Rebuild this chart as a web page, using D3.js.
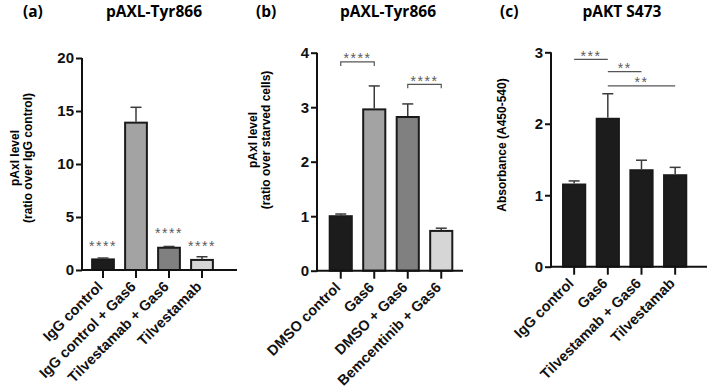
<!DOCTYPE html>
<html>
<head>
<meta charset="utf-8">
<script src="https://cdn.jsdelivr.net/npm/d3@7"></script>
<style>
  body { margin: 0; background: #fff; }
  .tick text { font-family: "Liberation Sans", Arial, sans-serif; }
</style>
</head>
<body>
<svg id="chart" width="709" height="392"></svg>
<script>
// panel (a) data
const catsA = ['IgG control', 'IgG control + Gas6', 'Tilvestamab + Gas6', 'Tilvestamab'];
const valsA = [1.0, 13.9, 2.1, 0.95];
const errsA = [0.13, 1.45, 0.12, 0.3];
const fillsA = ['#1c1c1c', '#a3a3a3', '#808080', '#d6d6d6'];
const ticksA = [0, 5, 10, 15, 20];
// stars above single bars: bar index, height (data units)
const starsA = [{ i: 0, at: 2.5, t: '****' }, { i: 2, at: 3.7, t: '****' }, { i: 3, at: 2.5, t: '****' }];

// panel (b) data
const catsB = ['DMSO control', 'Gas6', 'DMSO + Gas6', 'Bemcentinib + Gas6'];
const valsB = [1.0, 2.96, 2.82, 0.73];
const errsB = [0.04, 0.43, 0.24, 0.05];
const fillsB = ['#1c1c1c', '#a3a3a3', '#808080', '#d6d6d6'];
const ticksB = [0, 1, 2, 3, 4];
const bracketsB = [{ from: 0, to: 1, at: 3.83, t: '****' }, { from: 2, to: 3, at: 3.42, t: '****' }];

// panel (c) data
const catsC = ['IgG control', 'Gas6', 'Tilvestamab + Gas6', 'Tilvestamab'];
const valsC = [1.15, 2.07, 1.35, 1.28];
const errsC = [0.05, 0.35, 0.14, 0.11];
const fillsC = ['#1c1c1c', '#1c1c1c', '#1c1c1c', '#1c1c1c'];
const ticksC = [0, 1, 2, 3];
const linesC = [{ from: 0, to: 1, at: 2.9, t: '***' }, { from: 1, to: 2, at: 2.73, t: '**' }, { from: 1, to: 3, at: 2.53, t: '**' }];

const svg = d3.select('#chart');
const axisFont = '"Liberation Sans", Arial, sans-serif';
const labelFont = '"Open Sans", sans-serif';

const panels = [
  { tag: '(a)', tagX: 23, title: 'pAXL-Tyr866', titleX: 154, cats: catsA, vals: valsA, errs: errsA, fills: fillsA,
    ticks: ticksA, max: 20, axisX: 82, y0: 270, y1: 58, band: [86.5, 218.5], axisEnd: 237,
    ylab: ['pAxl level', '(ratio over IgG control)'], ylabX: 15, ylabY: 158 },
  { tag: '(b)', tagX: 256, title: 'pAXL-Tyr866', titleX: 388, cats: catsB, vals: valsB, errs: errsB, fills: fillsB,
    ticks: ticksB, max: 4, axisX: 317, y0: 270.7, y1: 52.7, band: [324, 458], axisEnd: 463,
    ylab: ['pAxl level', '(ratio over starved cells)'], ylabX: 253, ylabY: 140 },
  { tag: '(c)', tagX: 500, title: 'pAKT S473', titleX: 622, cats: catsC, vals: valsC, errs: errsC, fills: fillsC,
    ticks: ticksC, max: 3, axisX: 551, y0: 266.7, y1: 52.3, band: [557.3, 692], axisEnd: 707,
    ylab: ['Absorbance (A450-540)'], ylabX: 502, ylabY: 145 }
];

const drawStars = (g, x, y, t) => {
  g.append('text')
    .attr('x', x).attr('y', y + 7.5)
    .attr('text-anchor', 'middle')
    .attr('font-family', axisFont)
    .attr('font-size', 14)
    .attr('letter-spacing', 1.5)
    .attr('fill', '#5a5a5a')
    .text(t);
};

panels.forEach(p => {
  const g = svg.append('g');

  const x = d3.scaleBand().domain(p.cats).range(p.band).paddingInner(0.34).paddingOuter(0.17);
  const y = d3.scaleLinear().domain([0, p.max]).range([p.y0, p.y1]);
  const cx = i => x(p.cats[i]) + x.bandwidth() / 2;
  p.cx = cx; p.y = y; p.g = g;

  // titles
  g.append('text').attr('x', p.tagX).attr('y', 17)
    .attr('font-family', labelFont).attr('font-weight', 700).attr('font-size', 15.5)
    .text(p.tag);
  g.append('text').attr('x', p.titleX).attr('y', 17).attr('text-anchor', 'middle')
    .attr('font-family', labelFont).attr('font-weight', 700).attr('font-size', 15.5)
    .text(p.title);

  // y axis label
  const yl = g.append('text')
    .attr('transform', `translate(${p.ylabX},${p.ylabY}) rotate(-90)`)
    .attr('text-anchor', 'middle')
    .attr('font-family', axisFont).attr('font-weight', 700).attr('font-size', 12);
  p.ylab.forEach((s, k) => {
    yl.append('tspan').attr('x', 0).attr('dy', k === 0 ? '0.35em' : 13).text(s);
  });

  // bars
  g.selectAll('rect.bar').data(p.vals).enter().append('rect')
    .attr('class', 'bar')
    .attr('x', (d, i) => x(p.cats[i]))
    .attr('width', x.bandwidth())
    .attr('y', d => y(d))
    .attr('height', d => y(0) - y(d))
    .attr('fill', (d, i) => p.fills[i])
    .attr('stroke', '#1a1a1a')
    .attr('stroke-width', 2);

  // error bars (upper only)
  const eb = g.selectAll('g.err').data(p.vals).enter().append('g')
    .attr('stroke', '#3a3a3a').attr('stroke-width', 1.5);
  eb.append('line')
    .attr('x1', (d, i) => cx(i)).attr('x2', (d, i) => cx(i))
    .attr('y1', d => y(d) - 1).attr('y2', (d, i) => y(d + p.errs[i]));
  eb.append('line')
    .attr('x1', (d, i) => cx(i) - 5.5).attr('x2', (d, i) => cx(i) + 5.5)
    .attr('y1', (d, i) => y(d + p.errs[i])).attr('y2', (d, i) => y(d + p.errs[i]));

  // y axis
  const yAxisG = g.append('g')
    .attr('transform', `translate(${p.axisX},0)`)
    .call(d3.axisLeft(y).tickValues(p.ticks).tickFormat(d3.format('d')).tickSize(6).tickSizeOuter(0).tickPadding(2));
  yAxisG.select('.domain').attr('stroke-width', 2).attr('stroke', '#111')
    .attr('d', `M0,${p.y1}V${p.y0 + 1}`);
  yAxisG.selectAll('.tick line').attr('stroke-width', 2).attr('stroke', '#111');
  yAxisG.selectAll('.tick text')
    .attr('font-size', 15).attr('font-weight', 700).attr('fill', '#111');

  // x axis
  const xAxisG = g.append('g')
    .attr('transform', `translate(0,${p.y0})`)
    .call(d3.axisBottom(x).tickSize(8).tickSizeOuter(0));
  xAxisG.select('.domain').attr('stroke-width', 2).attr('stroke', '#111')
    .attr('d', `M${p.axisX - 1},0H${p.axisEnd}`);
  xAxisG.selectAll('.tick line').attr('stroke-width', 2).attr('stroke', '#111');
  xAxisG.selectAll('.tick text')
    .attr('x', 0).attr('y', 0).attr('dy', '0.35em')
    .attr('text-anchor', 'end')
    .attr('transform', 'translate(-3,14) rotate(-45)')
    .attr('font-family', labelFont).attr('font-weight', 600).attr('font-size', 14.5)
    .attr('fill', '#111');
});

// (a) stars above bars
const pa = panels[0];
starsA.forEach(s => drawStars(pa.g, pa.cx(s.i), pa.y(s.at), s.t));

// (b) brackets
const pb = panels[1];
bracketsB.forEach(b => {
  const ly = pb.y(b.at);
  const x1 = pb.cx(b.from), x2 = pb.cx(b.to);
  pb.g.append('path')
    .attr('d', `M${x1},${ly + 4}V${ly}H${x2}V${ly + 4}`)
    .attr('fill', 'none').attr('stroke', '#555').attr('stroke-width', 1.2);
  drawStars(pb.g, (x1 + x2) / 2, ly - 6, b.t);
});

// (c) significance lines
const pc = panels[2];
linesC.forEach(l => {
  const ly = pc.y(l.at);
  const x1 = pc.cx(l.from), x2 = pc.cx(l.to);
  pc.g.append('line')
    .attr('x1', x1).attr('x2', x2).attr('y1', ly).attr('y2', ly)
    .attr('stroke', '#555').attr('stroke-width', 1.2);
  drawStars(pc.g, (x1 + x2) / 2, ly - 6, l.t);
});
</script>
</body>
</html>
